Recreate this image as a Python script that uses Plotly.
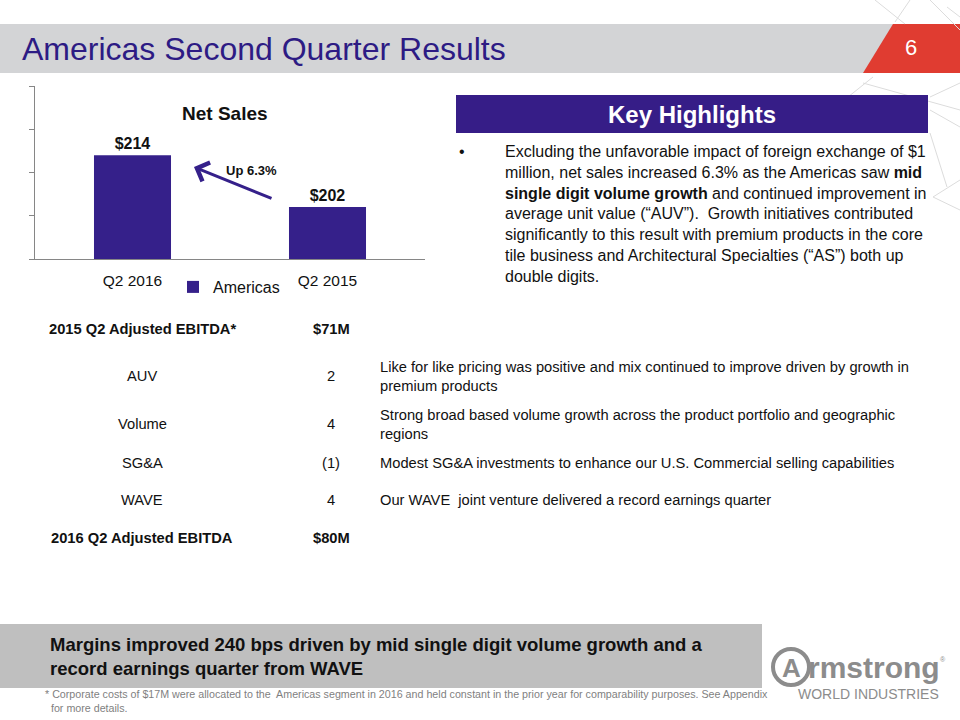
import plotly.graph_objects as go

# ---------------- data ----------------
periods = ["Q2 2016", "Q2 2015"]
net_sales = [214, 202]
series_name = "Americas"
growth_label = "Up 6.3%"

bridge_labels = ["2015 Q2 Adjusted EBITDA*", "AUV", "Volume", "SG&A", "WAVE", "2016 Q2 Adjusted EBITDA"]
bridge_values = ["$71M", "2", "4", "(1)", "4", "$80M"]
bridge_bold = [True, False, False, False, False, True]
bridge_notes = [
    "",
    "Like for like pricing was positive and mix continued to improve driven by growth in<br>premium products",
    "Strong broad based volume growth across the product portfolio and geographic<br>regions",
    "Modest SG&A investments to enhance our U.S. Commercial selling capabilities",
    "Our WAVE  joint venture delivered a record earnings quarter",
    "",
]
highlight_text = (
    "Excluding the unfavorable impact of foreign exchange of $1<br>"
    "million, net sales increased 6.3% as the Americas saw <b>mid</b><br>"
    "<b>single digit volume growth</b> and continued improvement in<br>"
    "average unit value (“AUV”).  Growth initiatives contributed<br>"
    "significantly to this result with premium products in the core<br>"
    "tile business and Architectural Specialties (“AS”) both up<br>"
    "double digits."
)
summary_text = ("Margins improved 240 bps driven by mid single digit volume growth and a<br>"
                "record earnings quarter from WAVE")
footnote_text = ("* Corporate costs of $17M were allocated to the  Americas segment in 2016 and held constant in the prior year for comparability purposes. See Appendix<br>"
                 "  for more details.")

# ---------------- style ----------------
W, H = 960, 720
FONT = "Liberation Sans, Arial, sans-serif"
PURPLE = "#35208a"
TITLE_PURPLE = "#2d1b84"
AXIS_GRAY = "#868686"


def px(x):
    return x / W


def py(y):
    return 1 - y / H


fig = go.Figure()
fig.add_trace(go.Bar(
    x=periods, y=net_sales, name=series_name,
    marker=dict(color=PURPLE, line=dict(width=0)),
    texttemplate="<b>$%{y}</b>", textposition="outside",
    textfont=dict(family=FONT, size=16, color="#111111"),
    cliponaxis=False, showlegend=True,
))

shapes = []
annotations = []

# title band
shapes.append(dict(type="rect", xref="paper", yref="paper", x0=0, x1=px(893), y0=py(73), y1=py(24),
                   fillcolor="#d3d4d6", line=dict(width=0), layer="below"))
shapes.append(dict(type="path", xref="paper", yref="paper",
                   path=f"M {px(893)},{py(24)} L {px(960)},{py(24)} L {px(960)},{py(73)} L {px(863)},{py(73)} Z",
                   fillcolor="#e03c31", line=dict(width=0), layer="below"))
annotations.append(dict(text="Americas Second Quarter Results", x=px(20), y=py(49), xref="paper", yref="paper",
                        xanchor="left", yanchor="middle", showarrow=False,
                        font=dict(family=FONT, size=32, color=TITLE_PURPLE)))
annotations.append(dict(text="6", x=px(911), y=py(48), xref="paper", yref="paper",
                        xanchor="center", yanchor="middle", showarrow=False,
                        font=dict(family=FONT, size=22, color="white")))

# decorative faint lines (top right)
deco = [((910, 0), (895, 22)), ((947, 7), (960, 17)), ((848, 97), (873, 77)), ((863, 83), (960, 110)),
        ((930, 97), (960, 83)), ((930, 110), (960, 127)), ((933, 197), (960, 180)), ((933, 197), (960, 210)),
        ((930, 133), (947, 187)), ((875, 0), (905, 24)), ((930, 0), (960, 30))]
for (a, b) in deco:
    shapes.append(dict(type="line", xref="paper", yref="paper", x0=px(a[0]), y0=py(a[1]), x1=px(b[0]), y1=py(b[1]),
                       line=dict(color="#dcdcdc", width=1), layer="below"))

# chart title + arrow
annotations.append(dict(text="<b>Net Sales</b>", x=px(225), y=py(113), xref="paper", yref="paper",
                        xanchor="center", yanchor="middle", showarrow=False,
                        font=dict(family=FONT, size=19, color="#111111")))
annotations.append(dict(text="", x=px(194), y=py(167), xref="paper", yref="paper",
                        ax=79, ay=32, axref="pixel", ayref="pixel",
                        showarrow=True, arrowhead=4, arrowsize=1.3, arrowwidth=3, arrowcolor=PURPLE))
annotations.append(dict(text=f"<b>{growth_label}</b>", x=px(251), y=py(170), xref="paper", yref="paper",
                        xanchor="center", yanchor="middle", showarrow=False,
                        font=dict(family=FONT, size=13, color="#111111")))

# key highlights
shapes.append(dict(type="rect", xref="paper", yref="paper", x0=px(456), x1=px(928), y0=py(133), y1=py(95),
                   fillcolor="#361d87", line=dict(width=0)))
annotations.append(dict(text="<b>Key Highlights</b>", x=px(692), y=py(115), xref="paper", yref="paper",
                        xanchor="center", yanchor="middle", showarrow=False,
                        font=dict(family=FONT, size=24, color="white")))
annotations.append(dict(text="•", x=px(462), y=py(151), xref="paper", yref="paper",
                        xanchor="center", yanchor="middle", showarrow=False,
                        font=dict(family=FONT, size=16, color="#111111")))
annotations.append(dict(text=highlight_text, x=px(503), y=py(141), xref="paper", yref="paper",
                        xanchor="left", yanchor="top", align="left", showarrow=False,
                        font=dict(family=FONT, size=16, color="#111111")))

# bridge table
row_y = [329, 376, 424, 463, 500, 538]
for lab, val, bold, note, yy in zip(bridge_labels, bridge_values, bridge_bold, bridge_notes, row_y):
    wrap = (lambda s: f"<b>{s}</b>") if bold else (lambda s: s)
    annotations.append(dict(text=wrap(lab), x=px(142), y=py(yy), xref="paper", yref="paper",
                            xanchor="center", yanchor="middle", showarrow=False,
                            font=dict(family=FONT, size=14.7, color="#111111")))
    annotations.append(dict(text=wrap(val), x=px(331), y=py(yy), xref="paper", yref="paper",
                            xanchor="center", yanchor="middle", showarrow=False,
                            font=dict(family=FONT, size=14.7, color="#111111")))
    if note:
        annotations.append(dict(text=note, x=px(378), y=py(yy), xref="paper", yref="paper",
                                xanchor="left", yanchor="middle", align="left", showarrow=False,
                                font=dict(family=FONT, size=14.7, color="#111111")))

# summary band
shapes.append(dict(type="rect", xref="paper", yref="paper", x0=0, x1=px(762), y0=py(688), y1=py(624),
                   fillcolor="#bfbfbf", line=dict(width=0), layer="below"))
annotations.append(dict(text=f"<b>{summary_text}</b>", x=px(48), y=py(656), xref="paper", yref="paper",
                        xanchor="left", yanchor="middle", align="left", showarrow=False,
                        font=dict(family=FONT, size=18.5, color="#111111")))
annotations.append(dict(text=footnote_text, x=px(43), y=py(701), xref="paper", yref="paper",
                        xanchor="left", yanchor="middle", align="left", showarrow=False,
                        font=dict(family=FONT, size=10.7, color="#7f7f7f")))

# logo
LOGO = "#8c8c8c"
shapes.append(dict(type="circle", xref="paper", yref="paper", x0=px(773), x1=px(809), y0=py(685), y1=py(649),
                   line=dict(color=LOGO, width=4)))
annotations.append(dict(text="<b>rmstrong</b>", x=px(806), y=py(667), xref="paper", yref="paper",
                        xanchor="left", yanchor="middle", showarrow=False,
                        font=dict(family=FONT, size=30, color=LOGO)))
annotations.append(dict(text="<b>A</b>", x=px(791), y=py(668), xref="paper", yref="paper",
                        xanchor="center", yanchor="middle", showarrow=False,
                        font=dict(family=FONT, size=26, color=LOGO)))
annotations.append(dict(text="®", x=px(943), y=py(659), xref="paper", yref="paper",
                        xanchor="center", yanchor="middle", showarrow=False,
                        font=dict(family=FONT, size=7, color=LOGO)))
annotations.append(dict(text="WORLD INDUSTRIES", x=px(868), y=py(694), xref="paper", yref="paper",
                        xanchor="center", yanchor="middle", showarrow=False,
                        font=dict(family=FONT, size=14, color=LOGO)))

fig.update_layout(
    width=W, height=H, margin=dict(l=0, r=0, t=0, b=0),
    paper_bgcolor="white", plot_bgcolor="white",
    font=dict(family=FONT, color="#111111"),
    bargap=0.605,
    shapes=shapes, annotations=annotations,
    showlegend=True,
    legend=dict(orientation="h", x=px(173), y=py(287), xanchor="left", yanchor="middle",
                font=dict(family=FONT, size=16, color="#111111"), bgcolor="rgba(0,0,0,0)"),
    xaxis=dict(domain=[px(35), px(425)], showline=True, linecolor=AXIS_GRAY, linewidth=1,
               ticks="", showgrid=False, zeroline=False, ticklabelstandoff=7,
               tickfont=dict(family=FONT, size=15.5, color="#111111")),
    yaxis=dict(domain=[py(259), py(86)], range=[190, 230], dtick=10, tick0=190,
               showline=True, linecolor=AXIS_GRAY, linewidth=1,
               ticks="outside", ticklen=5, tickcolor=AXIS_GRAY,
               showticklabels=False, showgrid=False, zeroline=False),
)

fig.write_html("out.html", config={"displayModeBar": False},
               post_script="document.body.style.margin='0px';document.body.style.overflow='hidden';")
